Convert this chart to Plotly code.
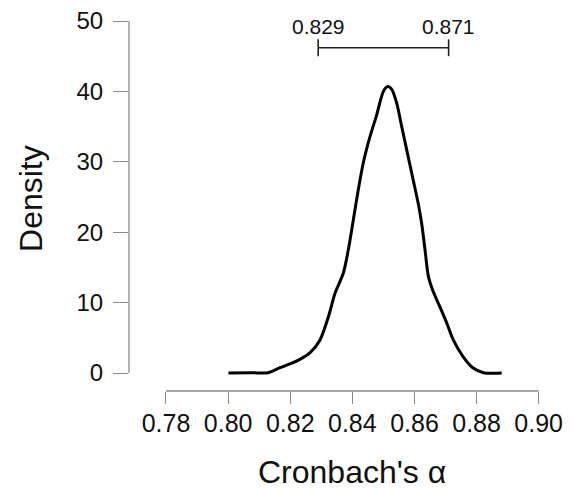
import plotly.graph_objects as go

# Posterior density of Cronbach's alpha
alpha_x = [0.8001, 0.8076, 0.8129, 0.8167, 0.8199, 0.8231, 0.8264, 0.8296, 0.8323,
           0.8344, 0.8371, 0.8387, 0.8403, 0.8419, 0.8435, 0.8457, 0.8478, 0.8500,
           0.8514, 0.8527, 0.8543, 0.8559, 0.8575, 0.8596, 0.8612, 0.8623, 0.8634,
           0.8645, 0.8661, 0.8682, 0.8704, 0.8725, 0.8757, 0.8789, 0.8822, 0.8881]
density_y = [0.0, 0.04, 0.04, 0.75, 1.28, 1.94, 2.9, 4.7, 8.0,
             11.3, 14.2, 17.5, 21.7, 26.0, 29.8, 33.6, 36.6, 40.0,
             40.7, 40.3, 38.3, 35.0, 31.7, 27.4, 24.1, 21.3, 17.5,
             13.7, 11.5, 9.4, 7.1, 4.7, 2.3, 0.7, 0.04, 0.0]

# Credible interval
ci_bounds = [0.829, 0.871]
ci_labels = ["0.829", "0.871"]

x_ticks = [0.78, 0.80, 0.82, 0.84, 0.86, 0.88, 0.90]
x_tick_labels = ["0.78", "0.80", "0.82", "0.84", "0.86", "0.88", "0.90"]
y_ticks = [0, 10, 20, 30, 40, 50]
y_tick_labels = ["0", "10", "20", "30", "40", "50"]

FONT = "Liberation Sans, Arial, sans-serif"
AXIS_COLOR = "#8a8a8a"
CI_Y = 46.2

fig = go.Figure()

fig.add_trace(go.Scatter(
    x=alpha_x, y=density_y, mode="lines",
    line=dict(color="black", width=3, shape="spline", smoothing=0.8),
    hoverinfo="skip", showlegend=False))

fig.add_trace(go.Scatter(
    x=ci_bounds, y=[CI_Y, CI_Y], mode="lines+markers",
    line=dict(color="#222222", width=1.6),
    marker=dict(symbol="line-ns-open", size=12, line=dict(color="#222222", width=1.6)),
    hoverinfo="skip", showlegend=False))

for xv, lab in zip(ci_bounds, ci_labels):
    fig.add_annotation(x=xv, y=CI_Y, xref="x", yref="y", text=lab, showarrow=False,
                       yanchor="bottom", yshift=8,
                       font=dict(family=FONT, size=21, color="#111111"))

# Detached R-style axis lines
fig.add_shape(type="line", xref="x", yref="paper", x0=x_ticks[0], x1=x_ticks[-1], y0=0, y1=0,
              line=dict(color=AXIS_COLOR, width=1.3))
fig.add_shape(type="line", xref="paper", yref="y", x0=0, x1=0, y0=y_ticks[0], y1=y_ticks[-1],
              line=dict(color=AXIS_COLOR, width=1.3))

# Axis titles
fig.add_annotation(x=0.84, xref="x", y=-0.2126, yref="paper", text="Cronbach's α",
                   showarrow=False, yanchor="middle",
                   font=dict(family=FONT, size=32, color="#111111"))
fig.add_annotation(x=-0.2328, xref="paper", y=0.5066, yref="paper", text="Density",
                   showarrow=False, textangle=-90, xanchor="center", yanchor="middle",
                   font=dict(family=FONT, size=32, color="#111111"))

# The page places the figure 8 px in from the top-left corner, so the figure is
# sized to the remaining window area.
fig.update_layout(
    width=565, height=481,
    margin=dict(l=121, r=23, t=2, b=98, autoexpand=False),
    paper_bgcolor="white", plot_bgcolor="white",
    showlegend=False,
    xaxis=dict(range=[0.76809, 0.90364], tickvals=x_ticks, ticktext=x_tick_labels,
               ticks="outside", ticklen=12, tickwidth=1.3, tickcolor=AXIS_COLOR,
               showgrid=False, zeroline=False, showline=False, automargin=False,
               ticklabelstandoff=-2, ticklabeloverflow="allow",
               tickfont=dict(family=FONT, size=25, color="#111111")),
    yaxis=dict(range=[-2.557, 51.5625], tickvals=y_ticks, ticktext=y_tick_labels,
               ticks="outside", ticklen=15, tickwidth=1.3, tickcolor=AXIS_COLOR,
               showgrid=False, zeroline=False, showline=False, automargin=False,
               ticklabelstandoff=5, ticklabeloverflow="allow",
               tickfont=dict(family=FONT, size=24, color="#111111")),
)

fig.write_html("out.html")
